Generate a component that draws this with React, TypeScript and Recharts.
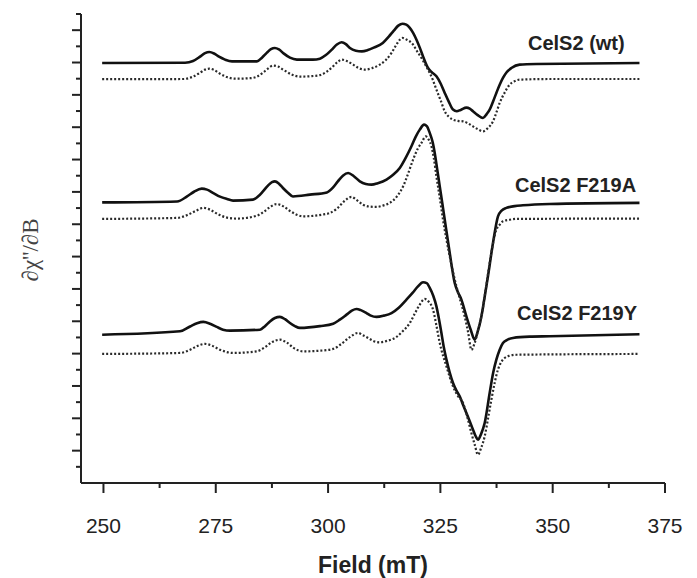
import { LineChart, Line, XAxis, YAxis } from "recharts";

// EPR derivative spectra: field (mT) and signal (arbitrary units, traces stacked)
const wtField = [249.71, 268.16, 269.94, 271.5, 272.61, 273.57, 274.61, 275.72, 277.06, 278.61, 284.17, 285.28, 286.39, 287.28, 288.17, 289.06, 290.17, 291.51, 293.06, 296.62, 298.18, 299.51, 300.84, 301.96, 303.0, 303.96, 304.85, 306.18, 307.51, 308.85, 310.18, 312.18, 313.52, 314.63, 315.63, 316.56, 317.41, 318.19, 318.96, 319.68, 320.41, 321.14, 322.25, 323.08, 324.12, 325.08, 325.97, 326.86, 327.81, 328.64, 329.52, 330.79, 331.53, 332.26, 333.3, 334.48, 335.3, 335.97, 336.71, 337.46, 338.2, 338.93, 339.75, 340.8, 342.64, 346.35, 369.32];
const wtExp = [25.97, 25.99, 26.09, 26.36, 26.58, 26.65, 26.56, 26.36, 26.18, 26.07, 26.07, 26.3, 26.61, 26.83, 26.9, 26.81, 26.55, 26.3, 26.18, 26.18, 26.24, 26.46, 26.8, 27.11, 27.25, 27.14, 26.9, 26.73, 26.69, 26.77, 26.92, 27.21, 27.6, 27.97, 28.28, 28.4, 28.34, 28.14, 27.82, 27.41, 26.92, 26.38, 25.66, 25.4, 25.15, 24.69, 24.12, 23.58, 23.09, 22.99, 23.07, 23.21, 23.15, 22.98, 22.75, 22.57, 22.81, 23.09, 23.58, 24.12, 24.63, 25.05, 25.4, 25.66, 25.87, 25.91, 25.97];

const wtSimField = [249.71, 267.72, 269.72, 271.5, 272.61, 273.61, 274.61, 275.94, 277.5, 279.5, 282.61, 284.17, 285.5, 286.62, 287.73, 288.84, 290.17, 291.73, 293.73, 296.4, 298.18, 299.73, 301.07, 302.18, 303.07, 304.18, 305.58, 306.85, 308.18, 309.74, 311.52, 312.85, 314.12, 315.07, 315.96, 316.56, 317.52, 318.92, 319.74, 320.79, 321.74, 322.63, 323.3, 324.12, 325.08, 325.97, 326.86, 327.81, 328.86, 330.04, 331.08, 332.26, 333.3, 334.48, 335.53, 336.71, 337.53, 338.2, 339.31, 340.42, 341.53, 342.64, 349.31, 369.32];
const wtSim = [24.97, 24.98, 25.1, 25.37, 25.56, 25.62, 25.54, 25.31, 25.1, 25.0, 25.03, 25.13, 25.37, 25.62, 25.81, 25.75, 25.53, 25.28, 25.13, 25.16, 25.22, 25.44, 25.75, 26.05, 26.18, 26.09, 25.87, 25.65, 25.56, 25.65, 25.87, 26.15, 26.59, 27.04, 27.41, 27.52, 27.41, 27.11, 26.73, 26.28, 25.81, 25.36, 24.94, 24.32, 23.64, 22.98, 22.65, 22.47, 22.39, 22.36, 22.25, 22.05, 21.88, 21.74, 21.94, 22.36, 22.96, 23.5, 24.14, 24.63, 24.85, 24.94, 24.98, 24.98];

const aField = [249.71, 266.39, 268.61, 270.16, 271.88, 273.05, 274.46, 275.94, 277.5, 278.84, 283.28, 284.39, 285.5, 286.62, 287.51, 288.17, 289.06, 289.95, 291.06, 292.17, 295.95, 299.73, 301.07, 302.18, 303.29, 304.47, 305.74, 307.07, 308.4, 309.67, 311.07, 313.01, 314.41, 315.96, 317.3, 318.56, 319.52, 320.41, 321.37, 321.97, 322.63, 323.3, 323.74, 324.3, 324.86, 325.41, 325.97, 327.08, 328.19, 328.86, 329.68, 330.79, 331.75, 332.64, 333.3, 334.13, 334.86, 335.59, 336.71, 337.82, 338.64, 339.68, 341.53, 343.37, 349.31, 369.32];
const aExp = [17.35, 17.41, 17.72, 18.01, 18.2, 18.14, 17.93, 17.71, 17.56, 17.46, 17.52, 17.71, 18.03, 18.39, 18.6, 18.65, 18.51, 18.24, 17.95, 17.72, 17.83, 17.97, 18.26, 18.65, 19.0, 19.17, 18.97, 18.65, 18.49, 18.45, 18.54, 18.76, 19.04, 19.48, 20.12, 20.82, 21.42, 21.85, 22.16, 22.07, 21.65, 21.05, 20.41, 19.38, 18.34, 17.33, 16.28, 14.22, 12.37, 11.83, 11.34, 10.3, 9.48, 8.86, 9.36, 10.3, 11.52, 12.78, 14.84, 16.49, 16.84, 17.01, 17.12, 17.17, 17.25, 17.32];

const aSimField = [249.71, 266.39, 268.83, 270.61, 272.23, 273.72, 275.5, 277.5, 279.72, 284.17, 285.73, 287.06, 288.55, 289.95, 291.73, 294.4, 298.62, 300.4, 301.96, 303.51, 305.22, 306.4, 307.8, 309.29, 310.78, 312.18, 313.74, 315.3, 316.7, 317.74, 318.92, 319.96, 320.79, 321.74, 322.41, 323.01, 323.52, 324.12, 324.86, 325.59, 327.08, 328.57, 329.52, 330.41, 331.19, 331.9, 332.64, 333.41, 334.13, 335.08, 335.97, 337.46, 338.2, 338.93, 340.42, 341.91, 369.32];
const aSim = [16.33, 16.39, 16.59, 16.84, 17.01, 16.9, 16.62, 16.41, 16.35, 16.53, 16.78, 17.06, 17.25, 17.12, 16.78, 16.49, 16.59, 16.7, 16.96, 17.4, 17.69, 17.49, 17.21, 17.09, 17.07, 17.15, 17.32, 17.71, 18.34, 19.07, 19.99, 20.67, 21.03, 21.43, 21.23, 20.82, 20.12, 18.96, 17.64, 16.28, 14.01, 12.16, 11.21, 10.3, 9.29, 8.24, 8.66, 9.48, 10.3, 11.95, 13.61, 15.66, 15.97, 16.18, 16.28, 16.33, 16.35];

const yField = [249.71, 267.05, 269.28, 270.83, 272.23, 273.72, 275.21, 276.61, 278.17, 284.84, 285.95, 287.06, 288.17, 289.28, 290.4, 291.51, 292.62, 293.73, 298.18, 301.13, 302.62, 304.11, 305.29, 306.34, 307.29, 308.56, 309.52, 310.78, 312.41, 314.12, 315.74, 317.45, 318.85, 319.96, 321.14, 321.97, 322.63, 323.41, 324.12, 324.63, 325.23, 325.74, 326.35, 327.08, 327.81, 328.52, 329.3, 330.04, 330.79, 331.53, 332.26, 332.86, 333.37, 334.08, 334.86, 335.97, 336.75, 337.46, 338.2, 338.93, 339.97, 341.15, 344.86, 349.31, 369.32];
const yExp = [9.17, 9.38, 9.68, 9.88, 9.96, 9.85, 9.65, 9.48, 9.42, 9.48, 9.7, 9.99, 10.2, 10.27, 10.13, 9.89, 9.7, 9.59, 9.7, 9.85, 10.1, 10.41, 10.66, 10.76, 10.69, 10.51, 10.35, 10.27, 10.35, 10.51, 10.84, 11.34, 11.77, 12.14, 12.41, 12.36, 12.06, 11.58, 10.92, 10.22, 9.28, 8.43, 7.63, 6.82, 6.18, 5.74, 5.36, 4.84, 4.33, 3.82, 3.3, 2.89, 2.68, 3.05, 3.71, 5.57, 6.82, 7.63, 8.24, 8.66, 8.86, 8.97, 9.05, 9.07, 9.2];

const ySimField = [249.71, 267.05, 269.5, 271.05, 272.61, 274.17, 275.94, 278.9, 284.1, 285.95, 287.51, 289.28, 290.84, 292.4, 294.46, 298.18, 301.13, 302.85, 304.85, 306.69, 307.74, 308.92, 310.18, 311.52, 313.29, 315.23, 316.63, 318.19, 319.3, 320.41, 321.52, 322.41, 323.37, 324.08, 324.86, 326.35, 327.81, 328.86, 330.04, 330.97, 331.9, 332.64, 333.37, 334.08, 334.86, 335.64, 336.35, 337.82, 338.53, 339.31, 340.42, 341.91, 369.32];
const ySim = [7.98, 8.04, 8.27, 8.49, 8.6, 8.49, 8.24, 8.04, 8.14, 8.4, 8.71, 8.86, 8.68, 8.34, 8.14, 8.18, 8.29, 8.58, 9.02, 9.28, 9.14, 8.97, 8.77, 8.7, 8.8, 9.03, 9.39, 9.89, 10.47, 11.03, 11.38, 11.21, 10.72, 9.79, 8.66, 7.21, 5.97, 5.4, 4.95, 4.1, 3.09, 2.37, 1.75, 2.18, 2.88, 4.04, 5.15, 7.01, 7.47, 7.73, 7.87, 7.93, 7.98];

const xTicks = [250, 262.5, 275, 287.5, 300, 312.5, 325, 337.5, 350, 362.5, 375];
const yTicks = [1, 2, 3, 4, 5, 6, 7, 8, 9, 10, 11, 12, 13, 14, 15, 16, 17, 18, 19, 20, 21, 22, 23, 24, 25, 26, 27, 28, 29];
const sampleNames = ["CelS2 (wt)", "CelS2 F219A", "CelS2 F219Y"];

const toPoints = (field: number[], vals: number[]) =>
  field.map((f, i) => ({ field: f, v: vals[i] }));

const sans = "'Liberation Sans', Arial, sans-serif";

const XTick = (props: any) => {
  const { x, y, payload } = props;
  const major = payload.value % 25 === 0;
  return (
    <g>
      <line x1={x} x2={x} y1={y} y2={y + (major ? 10 : 5)} stroke="#222" strokeWidth={2} />
      {major && (
        <text x={x} y={y + 50} textAnchor="middle" fontSize={21} fill="#222" fontFamily={sans}>
          {payload.value}
        </text>
      )}
    </g>
  );
};

const YTick = (props: any) => {
  const { x, y, payload } = props;
  const len = payload.value % 2 === 0 ? 9 : 5;
  return <line x1={x - len} x2={x} y1={y} y2={y} stroke="#222" strokeWidth={2} />;
};

const series = [
  { data: toPoints(wtField, wtExp), dotted: false },
  { data: toPoints(wtSimField, wtSim), dotted: true },
  { data: toPoints(aField, aExp), dotted: false },
  { data: toPoints(aSimField, aSim), dotted: true },
  { data: toPoints(yField, yExp), dotted: false },
  { data: toPoints(ySimField, ySim), dotted: true },
];

export default function App() {
  return (
    <LineChart width={689} height={570} margin={{ top: 6, right: 32, bottom: 5, left: 33 }}>
      <XAxis
        dataKey="field"
        type="number"
        domain={[245, 375]}
        ticks={xTicks}
        interval={0}
        height={90}
        tickSize={0}
        tickMargin={0}
        tickLine={false}
        tick={<XTick />}
        axisLine={{ stroke: "#222", strokeWidth: 2 }}
        allowDuplicatedCategory={false}
      />
      <YAxis
        type="number"
        domain={[0, 29]}
        ticks={yTicks}
        interval={0}
        width={40}
        tickSize={0}
        tickMargin={0}
        tickLine={false}
        tick={<YTick />}
        axisLine={{ stroke: "#222", strokeWidth: 2 }}
      />
      {series.map((s, i) => (
        <Line
          key={i}
          data={s.data}
          dataKey="v"
          type="monotone"
          stroke={s.dotted ? "#2a2a2a" : "#111"}
          strokeWidth={s.dotted ? 2.2 : 2.6}
          strokeDasharray={s.dotted ? "2 2" : undefined}
          dot={false}
          activeDot={false}
          isAnimationActive={false}
        />
      ))}
      <text x={520} y={42} fontSize={20} fontWeight="bold" fill="#222" fontFamily={sans}>
        {sampleNames[0]}
      </text>
      <text x={507} y={184} fontSize={20} fontWeight="bold" fill="#222" fontFamily={sans}>
        {sampleNames[1]}
      </text>
      <text x={509} y={312} fontSize={20} fontWeight="bold" fill="#222" fontFamily={sans}>
        {sampleNames[2]}
      </text>
      <text x={365} y={565} textAnchor="middle" fontSize={23} fontWeight="bold" fill="#222" fontFamily={sans}>
        Field (mT)
      </text>
      <text
        x={30}
        y={242}
        textAnchor="middle"
        fontSize={23}
        fill="#444"
        fontFamily="'Liberation Serif', 'Times New Roman', serif"
        transform="rotate(-90 30 242)"
      >
        ∂χ''/∂B
      </text>
    </LineChart>
  );
}
